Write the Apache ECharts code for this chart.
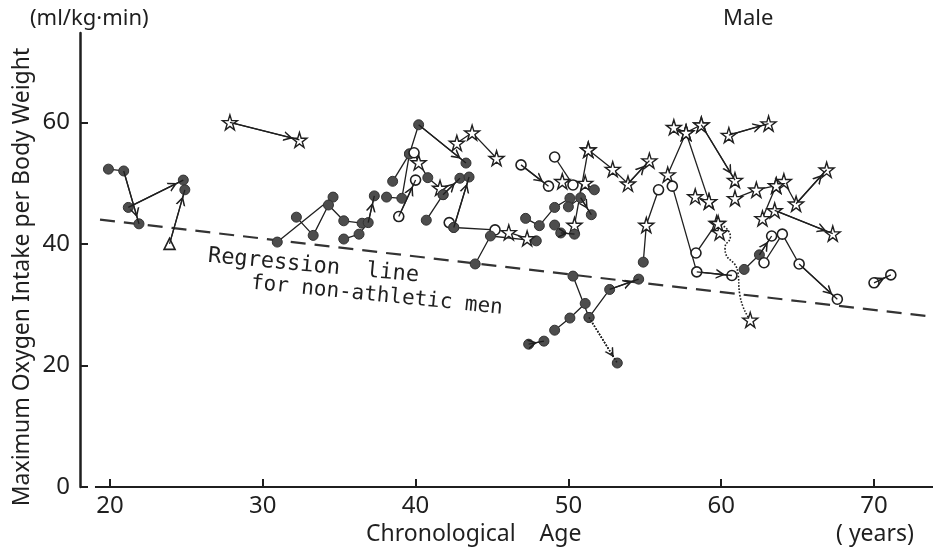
<!DOCTYPE html>
<html><head><meta charset="utf-8">
<script src="https://cdn.jsdelivr.net/npm/echarts@6/dist/echarts.min.js"></script>
<style>html,body{margin:0;padding:0;background:#fff}#c{width:933px;height:553px}</style>
</head><body><div id="c"></div>
<script>
// ---- data (age [years], VO2max [ml/kg·min]) ----
const xTicks = [20, 30, 40, 50, 60, 70];
const yTicks = [0, 20, 40, 60];
const regression = [[19.35, 44.0], [73.86, 28.0]];
const axisBase = [[19.02, 0], [73.86, 0]];

const t01 = [[19.9,52.3],[20.9,52.0],[21.9,43.3]];
const t02 = [[21.2,46.0],[24.8,50.5]];
const t03 = [[23.9,40.0],[24.9,48.9]];
const t04 = [[27.85,60.0],[32.4,57.1]];
const t05 = [[30.95,40.3],[34.6,47.7]];
const t06 = [[32.2,44.4],[33.3,41.4],[34.3,46.4],[35.3,43.8],[36.5,43.4]];
const t07 = [[35.3,40.8],[36.3,41.6],[36.9,43.5],[37.3,47.9]];
const t08 = [[38.1,47.7],[39.1,47.5],[39.6,54.8],[40.2,59.6],[43.3,53.3]];
const t09 = [[38.5,50.3],[39.6,54.8]];
const t10 = [[38.9,44.5],[40.0,50.5]];
const t11 = [[39.9,55.0],[40.2,53.4],[40.8,50.9],[41.6,49.2],[41.8,48.1],[42.9,50.8]];
const t12 = [[40.7,43.9],[41.8,48.1]];
const t13 = [[42.2,43.5],[42.5,42.7],[43.5,51.0]];
const t14 = [[42.5,42.7],[45.2,42.3]];
const t15 = [[42.7,56.6],[43.7,58.3],[45.3,54.1]];
const t16 = [[43.9,36.7],[44.9,41.3],[47.9,40.5]];
const t17 = [[46.1,41.9],[47.3,40.9]];
const t18 = [[46.9,53.0],[48.7,49.5]];
const t19 = [[49.1,54.3],[50.3,49.7]];
const t20 = [[49.6,50.3],[51.1,50.0],[51.7,48.9]];
const t21 = [[51.3,55.5],[50.4,43.1]];
const t22 = [[51.3,55.5],[52.9,52.3],[53.9,49.9],[55.3,53.7]];
const t23 = [[47.2,44.2],[48.1,43.0],[49.1,46.0],[50.1,47.5]];
const t24 = [[49.1,43.1],[49.5,41.8],[50.4,41.6]];
const t25 = [[50.0,46.1],[50.8,47.6],[51.5,44.8]];
const t26 = [[47.4,23.5],[48.4,24.0]];
const t27 = [[49.1,25.8],[50.1,27.8],[51.1,30.2]];
const t28 = [[50.3,34.7],[51.35,27.9],[52.7,32.5],[54.6,34.2]];
const t29 = [[51.35,27.9],[53.2,20.4]];
const t30 = [[54.9,37.0],[55.1,43.1],[55.9,48.9]];
const t31 = [[56.9,59.2],[57.7,58.3],[58.7,59.6]];
const t32 = [[57.7,58.3],[56.5,51.4],[56.8,49.5],[58.4,35.4],[60.7,34.8]];
const t33 = [[57.7,58.3],[59.2,47.0]];
const t34 = [[58.3,47.8],[59.2,47.0]];
const t35 = [[58.35,38.5],[59.7,43.4]];
const t35b = [[59.9,41.9]];
const t36 = [[59.8,43.4],[60.6,41.2],[60.25,39.3],[61.1,35.2],[61.2,31.9],[61.9,27.5]];
const t37 = [[58.7,59.6],[60.9,50.5]];
const t38 = [[60.5,57.9],[63.1,59.8]];
const t39 = [[60.9,47.5],[62.3,48.9],[63.6,49.6],[64.1,50.3],[64.9,46.6],[66.9,52.2]];
const t40 = [[62.7,44.2],[63.6,49.6]];
const t41 = [[63.5,45.5],[67.3,41.7]];
const t42 = [[61.5,35.8],[62.5,38.2],[63.3,41.3]];
const t43 = [[62.8,36.9],[64.0,41.6],[65.1,36.7],[67.6,30.9]];
const t44 = [[70.0,33.6],[71.1,34.9]];

// marker codes: d filled circle, o open circle, s open star, t open triangle, - none
const paths = [
  {pts:t01, mk:'ddd', arrow:true}, {pts:t02, mk:'dd', arrow:true}, {pts:t03, mk:'td', arrow:true},
  {pts:t04, mk:'ss', arrow:true}, {pts:t05, mk:'dd'}, {pts:t06, mk:'ddddd'},
  {pts:t07, mk:'dddd', arrow:true}, {pts:t08, mk:'ddddd', arrow:true}, {pts:t09, mk:'dd'},
  {pts:t10, mk:'oo', arrow:true}, {pts:t11, mk:'osdsdd', arrow:true}, {pts:t12, mk:'dd'},
  {pts:t13, mk:'odd', arrow:true}, {pts:t14, mk:'do'}, {pts:t15, mk:'sss'},
  {pts:t16, mk:'ddd'}, {pts:t17, mk:'ss'}, {pts:t18, mk:'oo', arrow:true},
  {pts:t19, mk:'oo'}, {pts:t20, mk:'ssd'}, {pts:t21, mk:'ss'},
  {pts:t22, mk:'ssss', arrow:true}, {pts:t23, mk:'dddd'}, {pts:t24, mk:'ddd', arrow:true},
  {pts:t25, mk:'ddd', arrow:true}, {pts:t26, mk:'dd', arrow:true}, {pts:t27, mk:'ddd'},
  {pts:t28, mk:'dddd', arrow:true}, {pts:t29, mk:'dd', arrow:true, dotted:true},
  {pts:t30, mk:'dso'}, {pts:t31, mk:'sss'}, {pts:t32, mk:'ssooo', arrow:true},
  {pts:t33, mk:'ss'}, {pts:t34, mk:'ss'}, {pts:t35, mk:'os'}, {pts:t35b, mk:'s'},
  {pts:t36, mk:'s----s', arrow:true, dotted:true, smooth:true},
  {pts:t37, mk:'ss', arrow:true}, {pts:t38, mk:'ss', arrow:true},
  {pts:t39, mk:'ssssss', arrow:true}, {pts:t40, mk:'ss'}, {pts:t41, mk:'ss', arrow:true},
  {pts:t42, mk:'ddo', arrow:true}, {pts:t43, mk:'oooo', arrow:true}, {pts:t44, mk:'oo', arrow:true}
];

// ---- styles ----
const FONT = "'Noto Sans', 'DejaVu Sans', sans-serif";
const INK = '#1f1f1f';
const STAR = 'path://M50,0L61,35L98,35L68,57L79,91L50,70L21,91L32,57L2,35L39,35Z';
const CHEVRON = 'path://M0,0L0.01,0L0,0.01Z M32,0L31.99,0L32,0.01Z M11,31L16,22L21,31L19.3,31L16,25.2L12.7,31Z';
const SYM = {
  d: {symbol:'circle', symbolSize:10, itemStyle:{color:'#4d4d4d', borderColor:'#333', borderWidth:1}},
  o: {symbol:'circle', symbolSize:10, itemStyle:{color:'#fff', borderColor:INK, borderWidth:1.6}},
  s: {symbol:STAR, symbolSize:15, itemStyle:{color:'#fff', borderColor:INK, borderWidth:1.4}},
  t: {symbol:'triangle', symbolSize:11, itemStyle:{color:'#fff', borderColor:INK, borderWidth:1.6}},
  '-': {symbol:'none'}
};

const series = [];
series.push({
  type:'line', data:axisBase, symbol:'none', silent:true, clip:false, z:1,
  lineStyle:{color:INK, width:2.2}
});
series.push({
  type:'line', data:regression, symbol:'none', silent:true, clip:false, z:1,
  lineStyle:{color:'#333', width:2.2, type:[15, 9]}
});
paths.forEach(p => {
  const n = p.pts.length;
  const s = {
    type:'line', silent:true, clip:false, z:2, animation:false,
    showAllSymbol:true, smooth: p.smooth ? 0.6 : false,
    data: p.pts.map((pt, i) => Object.assign({value:pt}, SYM[p.mk[i]])),
    lineStyle:{color:INK, width: p.dotted ? 1.6 : 1.3, type: p.dotted ? 'dotted' : 'solid'}
  };
  if (p.arrow && n >= 2) {
    s.markLine = {
      silent:true, animation:false, symbol:['none', CHEVRON], symbolSize:32,
      label:{show:false},
      lineStyle:{color:INK, width: p.dotted ? 1.6 : 1.3, type: p.dotted ? 'dotted' : 'solid'},
      itemStyle:{color:INK},
      data:[[{coord:p.pts[n-2]}, {coord:p.pts[n-1]}]]
    };
    if (p.smooth) s.markLine.lineStyle.opacity = 0;
  }
  series.push(s);
});

const chart = echarts.init(document.getElementById('c'), null, {renderer:'canvas'});
chart.setOption({
  animation:false,
  backgroundColor:'#fff',
  grid:{left:80, right:0, top:33, bottom:66, containLabel:false},
  xAxis:{
    type:'value', min:18.04, max:73.86,
    axisLine:{show:false},
    splitLine:{show:false},
    axisTick:{show:true, inside:true, length:8, lineStyle:{color:INK, width:2}, customValues:xTicks},
    axisLabel:{customValues:xTicks, fontSize:24, margin:7, color:INK, fontFamily:FONT}
  },
  yAxis:{
    type:'value', min:0, max:74.7,
    axisLine:{show:true, lineStyle:{color:INK, width:2.5}},
    splitLine:{show:false},
    axisTick:{show:true, inside:true, length:8, lineStyle:{color:INK, width:2}, customValues:yTicks},
    axisLabel:{customValues:yTicks, fontSize:24, margin:10, color:INK, fontFamily:FONT}
  },
  graphic:[
    {type:'text', left:30, top:8, style:{text:'(ml/kg·min)', fontSize:22, fill:INK, fontFamily:FONT}},
    {type:'text', left:723, top:8, style:{text:'Male', fontSize:22, fill:INK, fontFamily:FONT}},
    {type:'text', x:22, y:277, rotation:Math.PI/2, style:{text:'Maximum Oxygen Intake per Body Weight', fontSize:23, fill:INK, fontFamily:FONT, align:'center', verticalAlign:'middle'}},
    {type:'text', left:366, top:523, style:{text:'Chronological    Age', fontSize:23, fill:INK, fontFamily:FONT}},
    {type:'text', left:836, top:523, style:{text:'( years)', fontSize:23, fill:INK, fontFamily:FONT}},
    {type:'text', x:208, y:256, rotation:-0.094, style:{text:'Regression  line', fontSize:22, fill:INK, fontFamily:"'DejaVu Sans Mono', monospace", verticalAlign:'middle'}},
    {type:'text', x:251, y:283, rotation:-0.1, style:{text:'for non-athletic men', fontSize:21, fill:INK, fontFamily:"'DejaVu Sans Mono', monospace", verticalAlign:'middle'}}
  ],
  series
});
</script></body></html>
